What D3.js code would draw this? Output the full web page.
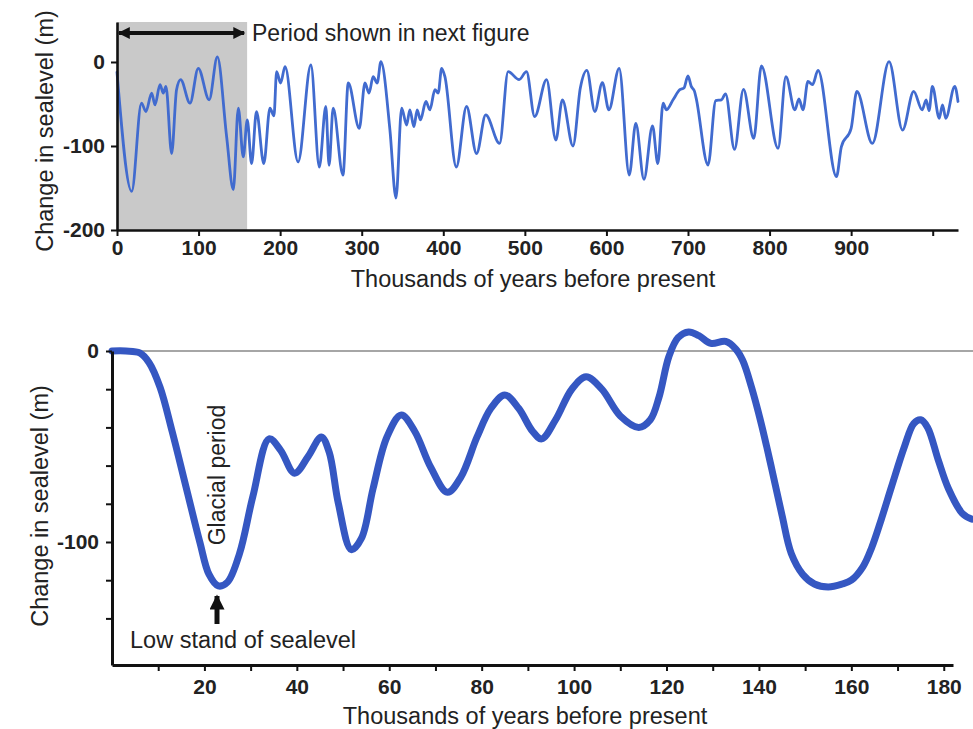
<!DOCTYPE html>
<html>
<head>
<meta charset="utf-8">
<script src="https://cdn.jsdelivr.net/npm/d3@7"></script>
<style>
    body { margin: 0; background: #fff; }
    text { font-family: "Liberation Sans", Arial, sans-serif; fill: #222; }
</style>
</head>
<body>
<svg id="chart" width="973" height="729"></svg>
<script>
// top panel: ~1 million years of sea level (kyr before present, metres)
var longAges = [0, 18, 30, 35.5, 42.5, 46.6, 52.7, 56.8, 60, 67, 73, 78, 89.5, 99.6, 113, 123, 134.4, 142.6,
    148.7, 154.8, 159.7, 165, 171, 180, 187.5, 192.4, 195.7, 200.6, 206, 222, 237.7, 248, 256, 260, 265, 277,
    283.5, 297, 304, 309, 314, 319, 323.5, 334.6, 342, 349, 355, 359, 364, 368, 372, 378.7, 383.6, 389.7,
    393.8, 398, 402, 416, 428.5, 440.8, 452, 469, 479.5, 493, 502, 512, 526.6, 538, 546, 559, 568, 576,
    585.8, 595, 603, 615.6, 628, 636, 646, 656.5, 663, 669.5, 673.6, 681.7, 690, 695, 700, 704, 708, 710,
    724.6, 734, 741, 746, 757, 768, 780.6, 790, 810.4, 820, 831, 836, 841, 847, 852.6, 859.4, 882, 888, 900,
    907, 926, 946.5, 963, 976.7, 987, 992, 995.5, 999.6, 1008, 1012, 1016, 1027, 1031];
var longLevels = [-12, -154, -49, -59, -37, -51, -27, -37, -29, -109, -33, -21, -49, -7.5, -45, 6, -89, -152,
    -55, -113, -69, -121, -59, -121, -55, -64, -11.5, -25, -5.6, -119, -3.6, -125, -53, -123, -55, -134.5,
    -25, -79, -25, -37, -17.5, -25, 0.4, -81, -162, -55, -75, -57, -77, -57, -69, -47, -57, -33,
    -37, -7.5, -17.5, -125, -53, -109, -63, -97, -11.5, -21, -11.5, -65, -21, -93, -45, -100, -31, -10,
    -59, -24.6, -57, -7.5, -134.5, -73, -139.7, -76, -121, -49, -57, -45, -33, -31, -16.7, -29, -35, -43,
    -122.6, -46, -45, -38, -104, -32.5, -91, -4.8, -102.7, -17.5, -57, -44, -57, -23, -27, -10, -136.5, -101, -79,
    -35, -97, 0.4, -81, -35, -57, -45, -58, -29, -67, -51, -67, -29, -47];
var longTicks = [0, 100, 200, 300, 400, 500, 600, 700, 800, 900, 1000];
var longLevelTicks = [0, -100, -200];
var shadedPeriod = [0, 159.5];

// bottom panel: last ~185 kyr
var shortAges = [0, 3, 6, 8, 10.4, 13, 16, 19, 21, 23, 25, 27.6, 30.5, 34, 36.5, 39.5, 42.5, 45.3, 47, 49,
    51.8, 54, 56.5, 59.5, 62.6, 65.5, 69, 72.6, 75.5, 79, 82, 85, 88, 91, 93, 96, 99.5, 102.6, 106, 110,
    114, 116.5, 118.4, 120.5, 122.5, 124.8, 127, 129.6, 132.8, 135, 136.5, 138.4, 140.5, 142.8, 145, 147,
    149.5, 152, 155, 158, 160, 162.5, 164.4, 166.5, 168.7, 171.5, 173.5, 175, 176.5, 178.8, 181, 184, 186];
var shortLevels = [0, 0, -1, -6, -19, -42, -71, -100, -117, -123, -121, -106, -76, -46, -52, -64, -55, -45, -53, -80,
    -104, -98, -72, -45, -33.5, -42, -61, -74, -66, -45, -30, -23, -30, -42, -46, -36, -20, -13.5, -20, -34,
    -40, -36, -24, -3, 7, 10, 8, 4, 5, 1, -5, -19, -38, -62, -86, -106,
    -117, -122, -123.5, -122, -120, -113, -103, -88, -71, -50, -38, -36, -40, -57, -72, -85, -88];
var shortTicks = [10, 20, 30, 40, 50, 60, 70, 80, 90, 100, 110, 120, 130, 140, 150, 160, 170, 180];
var shortLevelTicks = [0, -20, -40, -60, -80, -100, -120, -140];
var shortLevelLabels = [0, -100];

var svg = d3.select('#chart');

class SeaPanel {
    constructor(elemT, agesT, levelsT, xr, yr) {
        this.elem = elemT;
        this.data = agesT.map((a, i) => ({age: a, level: levelsT[i]}));
        this.x = d3.scaleLinear().domain(xr.domain).range(xr.range);
        this.y = d3.scaleLinear().domain(yr.domain).range(yr.range);
    }

    dibujarEjes(xTicks, xFmt, yTicks, yFmt, opts) {
        var xAxis = d3.axisBottom(this.x).tickValues(xTicks).tickFormat(xFmt)
            .tickSize(opts.tick).tickSizeOuter(0).tickPadding(opts.xPad);
        var yAxis = d3.axisLeft(this.y).tickValues(yTicks).tickFormat(yFmt)
            .tickSize(opts.tick).tickSizeOuter(0).tickPadding(opts.yPad);

        var gx = this.elem.append('g')
            .attr('transform', 'translate(0,' + this.y.range()[0] + ')')
            .call(xAxis);
        var gy = this.elem.append('g')
            .attr('transform', 'translate(' + this.x.range()[0] + ',0)')
            .call(yAxis);

        [gx, gy].forEach(g => {
            g.select('.domain').attr('stroke', '#111').attr('stroke-width', opts.width);
            g.selectAll('.tick line').attr('stroke', '#111').attr('stroke-width', 2);
            g.selectAll('.tick text')
                .attr('font-family', '"Liberation Sans", Arial, sans-serif')
                .attr('font-size', opts.font).attr('font-weight', 'bold').attr('fill', '#222');
        });
    }

    dibujarTitulos(xt, yt) {
        this.elem.append('text')
            .attr('x', xt[0]).attr('y', xt[1])
            .attr('text-anchor', 'middle')
            .attr('font-size', 23.5)
            .text('Thousands of years before present');

        this.elem.append('text')
            .attr('transform', 'translate(' + yt[0] + ',' + yt[1] + ') rotate(-90)')
            .attr('text-anchor', 'middle')
            .attr('dy', '0.35em')
            .attr('font-size', 23.5)
            .text('Change in sealevel (m)');
    }

    dibujarLinea(color, width, curve) {
        var line = d3.line()
            .x(d => this.x(d.age))
            .y(d => this.y(d.level))
            .curve(curve);

        this.elem.append('path')
            .datum(this.data)
            .attr('fill', 'none')
            .attr('stroke', color)
            .attr('stroke-width', width)
            .attr('stroke-linejoin', 'round')
            .attr('stroke-linecap', 'round')
            .attr('d', line);
    }
}

// arrow heads
var defs = svg.append('defs');
defs.append('marker')
    .attr('id', 'head')
    .attr('viewBox', '0 0 10 10')
    .attr('refX', 9).attr('refY', 5)
    .attr('markerWidth', 3.2).attr('markerHeight', 3)
    .attr('orient', 'auto-start-reverse')
    .append('path').attr('d', 'M0,0 L10,5 L0,10 Z').attr('fill', '#111');

// ---------- top panel ----------
var topPanel = new SeaPanel(svg.append('g'), longAges, longLevels,
    {domain: [0, 1031], range: [117, 958]},
    {domain: [-200, 47.6], range: [230, 22]});

topPanel.elem.append('rect')
    .attr('x', topPanel.x(shadedPeriod[0]))
    .attr('y', topPanel.y.range()[1])
    .attr('width', topPanel.x(shadedPeriod[1]) - topPanel.x(shadedPeriod[0]))
    .attr('height', topPanel.y.range()[0] - topPanel.y.range()[1])
    .attr('fill', '#c9c9c9');

topPanel.dibujarLinea('#416bcf', 2.8, d3.curveMonotoneX);
topPanel.dibujarEjes(longTicks, d => d < 1000 ? d : '', longLevelTicks, d => d,
    {tick: 6, xPad: 4, yPad: 6, width: 2.6, font: 21});
topPanel.dibujarTitulos([533, 287], [45, 131]);

topPanel.elem.append('line')
    .attr('x1', topPanel.x(shadedPeriod[0]) + 2).attr('x2', topPanel.x(shadedPeriod[1]) - 3)
    .attr('y1', 33).attr('y2', 33)
    .attr('stroke', '#111').attr('stroke-width', 4)
    .attr('marker-start', 'url(#head)')
    .attr('marker-end', 'url(#head)');

topPanel.elem.append('text')
    .attr('x', 252).attr('y', 41)
    .attr('font-size', 23)
    .text('Period shown in next figure');

// ---------- bottom panel ----------
var bottomPanel = new SeaPanel(svg.append('g'), shortAges, shortLevels,
    {domain: [0, 182], range: [112, 953]},
    {domain: [-164.4, 0], range: [665, 351]});

bottomPanel.elem.append('line')
    .attr('x1', bottomPanel.x(0)).attr('x2', 973)
    .attr('y1', bottomPanel.y(0)).attr('y2', bottomPanel.y(0))
    .attr('stroke', '#888').attr('stroke-width', 1.5);

bottomPanel.dibujarLinea('#3557c2', 7, d3.curveCatmullRom.alpha(0.5));
bottomPanel.dibujarEjes(shortTicks, d => d % 20 == 0 ? d : '',
    shortLevelTicks, d => shortLevelLabels.indexOf(d) >= 0 ? d : '',
    {tick: 6, xPad: 8, yPad: 7, width: 3, font: 21});
bottomPanel.dibujarTitulos([525, 724], [40, 506]);

bottomPanel.elem.append('text')
    .attr('transform', 'translate(217,475) rotate(-90)')
    .attr('text-anchor', 'middle')
    .attr('dy', '0.35em')
    .attr('font-size', 23)
    .text('Glacial period');

bottomPanel.elem.append('line')
    .attr('x1', 217).attr('x2', 217)
    .attr('y1', 624).attr('y2', 596)
    .attr('stroke', '#111').attr('stroke-width', 5)
    .attr('marker-end', 'url(#head)');

bottomPanel.elem.append('text')
    .attr('x', 130).attr('y', 648)
    .attr('font-size', 23.5)
    .text('Low stand of sealevel');
</script>
</body>
</html>
